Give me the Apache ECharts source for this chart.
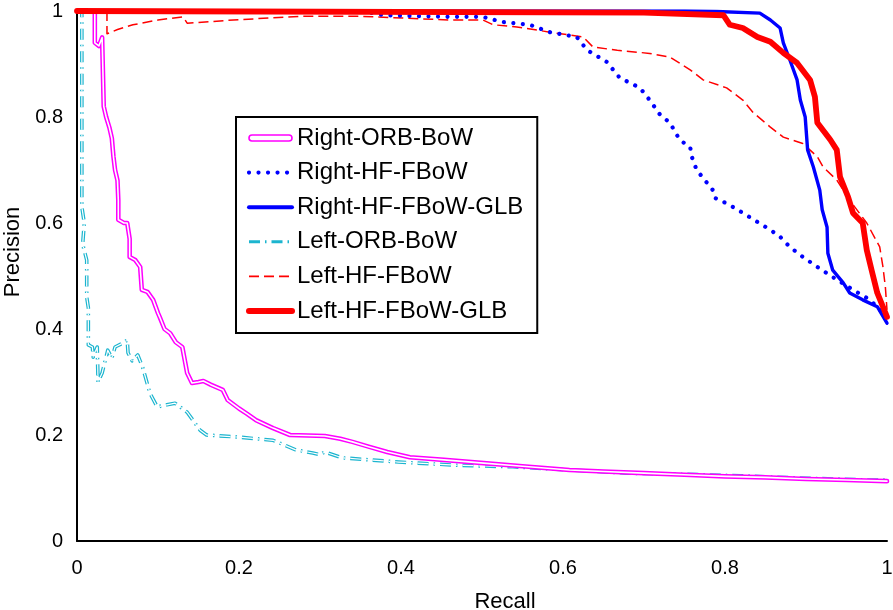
<!DOCTYPE html>
<html>
<head>
<meta charset="utf-8">
<script src="https://cdn.jsdelivr.net/npm/echarts@6/dist/echarts.min.js"></script>
<style>
  html, body, #main { width: 100%; height: 100%; margin: 0; background: #fff; }
</style>
</head>
<body>
<div id="main"></div>
<script>
// precision / recall points, [recall, precision]
var rightOrbBow = [
  [0, 1], [0.022, 1], [0.022, 0.94], [0.027, 0.934], [0.031, 0.95], [0.033, 0.95],
  [0.033, 0.82], [0.036, 0.80], [0.04, 0.78], [0.043, 0.76], [0.045, 0.725], [0.047, 0.70],
  [0.05, 0.68], [0.051, 0.643], [0.051, 0.606], [0.058, 0.60], [0.062, 0.60], [0.065, 0.57],
  [0.065, 0.536], [0.072, 0.53], [0.078, 0.517], [0.08, 0.474], [0.087, 0.47], [0.094, 0.455],
  [0.1, 0.43], [0.102, 0.423], [0.108, 0.40], [0.115, 0.392], [0.122, 0.375], [0.13, 0.366],
  [0.136, 0.317], [0.142, 0.298], [0.15, 0.30], [0.156, 0.302], [0.165, 0.295], [0.18, 0.285],
  [0.186, 0.266], [0.2, 0.25], [0.21, 0.24], [0.221, 0.228], [0.242, 0.213], [0.263, 0.2],
  [0.285, 0.199], [0.306, 0.198], [0.325, 0.193], [0.34, 0.187], [0.36, 0.178], [0.383, 0.168],
  [0.411, 0.158], [0.453, 0.153], [0.502, 0.147], [0.55, 0.141], [0.608, 0.134], [0.65, 0.131],
  [0.7, 0.128], [0.75, 0.125], [0.8, 0.122], [0.85, 0.12], [0.9, 0.117], [0.95, 0.115],
  [1, 0.113]
];
var rightHfFbow = [
  [0, 1], [0.35, 1], [0.38, 0.992], [0.46, 0.989], [0.501, 0.989], [0.526, 0.979],
  [0.559, 0.974], [0.584, 0.96], [0.617, 0.951], [0.63, 0.926], [0.654, 0.904], [0.67, 0.874],
  [0.695, 0.855], [0.707, 0.832], [0.72, 0.804], [0.732, 0.789], [0.744, 0.757], [0.757, 0.743],
  [0.759, 0.725], [0.765, 0.7], [0.773, 0.685], [0.785, 0.662], [0.788, 0.647], [0.798, 0.64],
  [0.81, 0.63], [0.822, 0.619], [0.84, 0.602], [0.856, 0.587], [0.868, 0.574], [0.88, 0.555],
  [0.896, 0.536], [0.914, 0.517], [0.933, 0.498], [0.958, 0.474], [0.979, 0.455], [1, 0.423]
];
var rightHfFbowGlb = [
  [0, 1], [0.75, 1], [0.79, 0.999], [0.843, 0.996], [0.856, 0.983], [0.868, 0.968],
  [0.872, 0.94], [0.88, 0.908], [0.889, 0.87], [0.893, 0.832], [0.899, 0.8], [0.902, 0.738],
  [0.909, 0.706], [0.917, 0.662], [0.92, 0.625], [0.926, 0.592], [0.927, 0.543], [0.933, 0.511],
  [0.946, 0.487], [0.954, 0.468], [0.97, 0.455], [0.988, 0.442], [1, 0.411]
];
var leftOrbBow = [
  [0, 1], [0.006, 1], [0.006, 0.63], [0.009, 0.6], [0.007, 0.56], [0.012, 0.53],
  [0.012, 0.46], [0.014, 0.44], [0.014, 0.37], [0.019, 0.366], [0.02, 0.347], [0.025, 0.366],
  [0.026, 0.30], [0.031, 0.317], [0.038, 0.36], [0.043, 0.345], [0.047, 0.366], [0.056, 0.373],
  [0.062, 0.379], [0.063, 0.355], [0.068, 0.34], [0.075, 0.351], [0.081, 0.328], [0.09, 0.279],
  [0.099, 0.253], [0.111, 0.257], [0.121, 0.26], [0.136, 0.243], [0.152, 0.209], [0.16, 0.2],
  [0.2, 0.196], [0.242, 0.19], [0.27, 0.172], [0.291, 0.166], [0.3, 0.163], [0.306, 0.168],
  [0.327, 0.157], [0.397, 0.149], [0.468, 0.143], [0.538, 0.14], [0.608, 0.134], [0.678, 0.128],
  [0.748, 0.126], [0.819, 0.123], [0.889, 0.119], [0.98, 0.115], [1, 0.115]
];
var leftHfFbow = [
  [0, 1], [0.037, 1], [0.037, 0.957], [0.05, 0.965], [0.069, 0.974], [0.1, 0.983],
  [0.131, 0.989], [0.136, 0.977], [0.193, 0.983], [0.275, 0.99], [0.35, 0.99], [0.46, 0.983],
  [0.501, 0.983], [0.514, 0.974], [0.543, 0.97], [0.584, 0.96], [0.625, 0.951], [0.637, 0.932],
  [0.667, 0.926], [0.707, 0.92], [0.732, 0.913], [0.757, 0.889], [0.773, 0.87], [0.802, 0.855],
  [0.822, 0.832], [0.835, 0.808], [0.856, 0.781], [0.872, 0.762], [0.896, 0.75], [0.914, 0.725],
  [0.921, 0.706], [0.938, 0.681], [0.954, 0.643], [0.975, 0.6], [0.991, 0.555], [0.995, 0.517],
  [0.998, 0.479], [1, 0.436]
];
var leftHfFbowGlb = [
  [0, 1], [0.7, 0.997], [0.798, 0.992], [0.806, 0.974], [0.822, 0.968], [0.84, 0.951],
  [0.856, 0.942], [0.872, 0.921], [0.889, 0.902], [0.905, 0.87], [0.911, 0.838], [0.914, 0.789],
  [0.93, 0.757], [0.938, 0.738], [0.942, 0.687], [0.952, 0.649], [0.958, 0.619], [0.97, 0.6],
  [0.975, 0.549], [0.981, 0.511], [0.988, 0.468], [0.995, 0.442], [1, 0.423]
];
var legendNames = ['Right-ORB-BoW', 'Right-HF-FBoW', 'Right-HF-FBoW-GLB',
                   'Left-ORB-BoW', 'Left-HF-FBoW', 'Left-HF-FBoW-GLB'];

var font = '"Liberation Sans", Arial, Helvetica, sans-serif';
var cyanDash = [11, 5, 1.5, 5];
// thin hollow bar used as the legend icon of the double-lined series
var hollowBar = 'path://M3,0 L40,0 A3,3 0 0 1 40,6 L3,6 A3,3 0 0 1 3,0 Z';

function line(name, data, style, extra) {
  var s = {
    name: name,
    type: 'line',
    data: data,
    symbol: 'none',
    lineStyle: Object.assign({ cap: 'round', join: 'round' }, style),
    z: 2
  };
  return Object.assign(s, extra || {});
}

var chart = echarts.init(document.getElementById('main'));
chart.setOption({
  animation: false,
  grid: { left: 77, right: 6, top: 11, bottom: 69, outerBoundsMode: 'none', containLabel: false },
  legend: {
    orient: 'vertical',
    left: 236,
    top: 117,
    padding: [8, 14, 9, 10],
    itemWidth: 43,
    itemHeight: 12,
    itemGap: 8.6,
    backgroundColor: '#fff',
    borderColor: '#000',
    borderWidth: 2,
    borderRadius: 0,
    // hide the marker drawn in the middle of each line icon
    itemStyle: { opacity: 0 },
    textStyle: { fontFamily: font, fontSize: 24, color: '#000', lineHeight: 26 },
    data: [
      { name: legendNames[0], icon: hollowBar,
        itemStyle: { opacity: 1, color: '#fff', borderColor: '#ff00ff', borderWidth: 1.6 } },
      { name: legendNames[1], lineStyle: { width: 4.2 } },
      { name: legendNames[2], lineStyle: { width: 4 } },
      { name: legendNames[3], lineStyle: { width: 3 } },
      { name: legendNames[4], lineStyle: { width: 1.6 } },
      { name: legendNames[5], lineStyle: { width: 6 } }
    ]
  },
  xAxis: {
    type: 'value',
    min: 0, max: 1, interval: 0.2,
    name: 'Recall',
    nameLocation: 'middle',
    nameGap: 50,
    nameTextStyle: { fontFamily: font, fontSize: 22, color: '#000', padding: [0, 0, 0, 46] },
    axisLine: { lineStyle: { color: '#000', width: 2 } },
    axisTick: { show: false },
    splitLine: { show: false },
    axisLabel: { fontFamily: font, fontSize: 20, color: '#000', margin: 17 }
  },
  yAxis: {
    type: 'value',
    min: 0, max: 1, interval: 0.2,
    name: 'Precision',
    nameLocation: 'middle',
    nameGap: 52,
    nameTextStyle: { fontFamily: font, fontSize: 22, color: '#000', padding: [0, 0, 0, 48] },
    axisLine: { show: true, lineStyle: { color: '#000', width: 2 } },
    axisTick: { show: false },
    splitLine: { show: false },
    axisLabel: { fontFamily: font, fontSize: 20, color: '#000', margin: 14 }
  },
  series: [
    line(legendNames[3], leftOrbBow, { color: '#1cb5cf', width: 3.6, type: cyanDash, cap: 'butt' },
         { itemStyle: { color: '#1cb5cf' } }),
    line('leftOrbInner', leftOrbBow, { color: '#fff', width: 1.2, type: cyanDash, cap: 'butt' },
         { silent: true }),
    line(legendNames[0], rightOrbBow, { color: '#ff00ff', width: 4.6 },
         { itemStyle: { color: '#ff00ff' } }),
    line('rightOrbInner', rightOrbBow, { color: '#fff', width: 1.6 }, { silent: true }),
    line(legendNames[4], leftHfFbow, { color: '#ff0000', width: 1.5, type: [10, 5], cap: 'butt' },
         { itemStyle: { color: '#ff0000' } }),
    line(legendNames[1], rightHfFbow, { color: '#0000ff', width: 4.2, type: [0.01, 9.5] },
         { itemStyle: { color: '#0000ff' } }),
    line(legendNames[2], rightHfFbowGlb, { color: '#0000ff', width: 3.4 },
         { itemStyle: { color: '#0000ff' } }),
    line(legendNames[5], leftHfFbowGlb, { color: '#ff0000', width: 5.8 },
         { itemStyle: { color: '#ff0000' } })
  ]
});
</script>
</body>
</html>
